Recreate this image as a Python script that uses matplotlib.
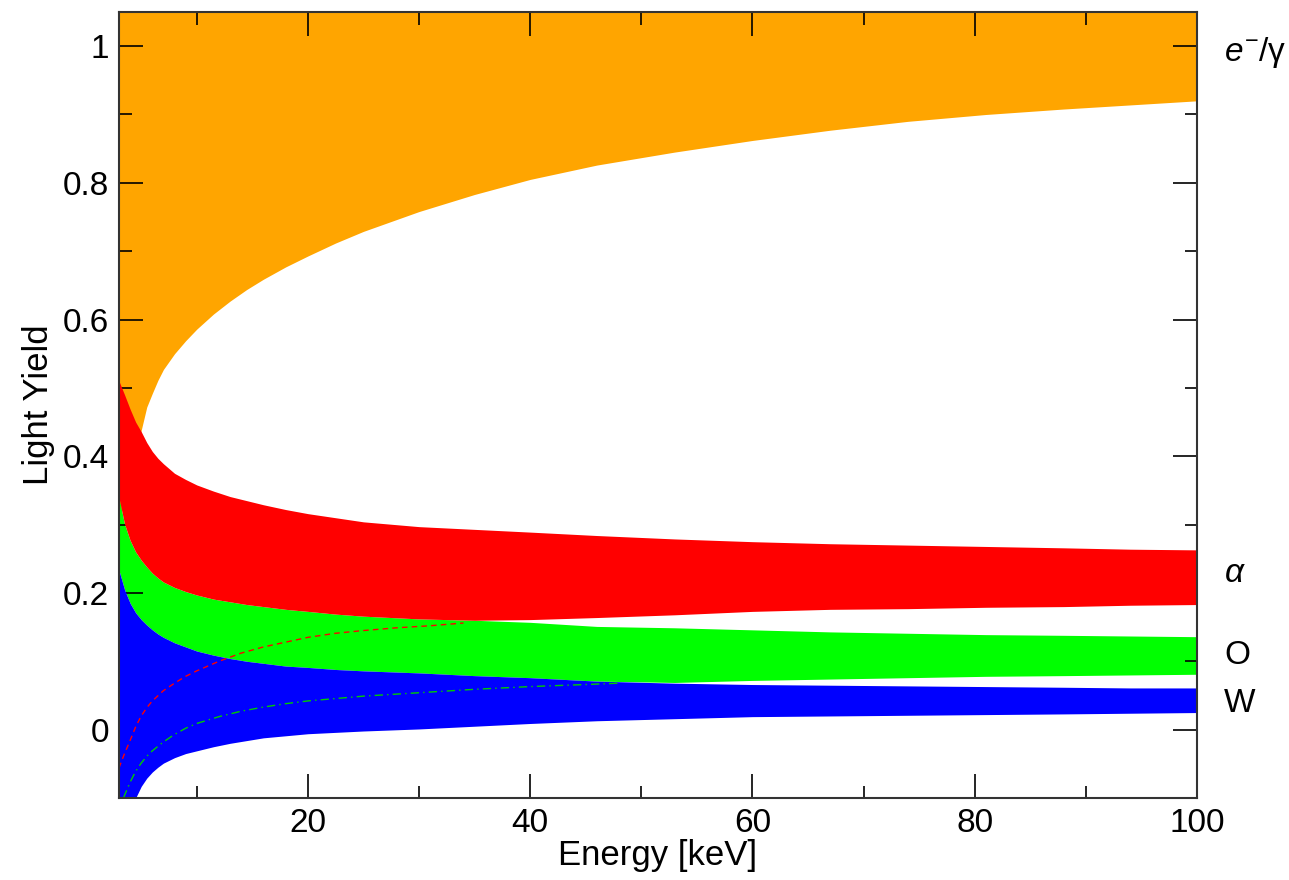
import numpy as np
import matplotlib
matplotlib.use("Agg")
import matplotlib.pyplot as plt
from matplotlib.ticker import MultipleLocator, FuncFormatter

# band edges, light yield vs energy [keV]
energy = [3, 3.5, 4, 4.5, 5, 5.5, 6, 6.5, 7, 8, 9, 10, 11.5, 13, 14.5, 16,
          18, 20, 22.5, 25, 30, 35, 40, 46, 53, 60, 67, 74, 81, 88, 94, 100]

electron_low = [0.30, 0.34, 0.37, 0.405, 0.438, 0.472, 0.492, 0.511, 0.527,
                0.550, 0.569, 0.586, 0.608, 0.627, 0.644, 0.659, 0.677, 0.693,
                0.712, 0.729, 0.758, 0.783, 0.805, 0.826, 0.845, 0.862, 0.877,
                0.890, 0.900, 0.908, 0.914, 0.920]
electron_high = [1.2] * len(energy)

alpha_high = [0.510, 0.490, 0.469, 0.450, 0.436, 0.420, 0.407, 0.397, 0.389,
              0.375, 0.366, 0.358, 0.349, 0.341, 0.335, 0.329, 0.322, 0.316,
              0.310, 0.304, 0.297, 0.293, 0.289, 0.284, 0.279, 0.275, 0.272,
              0.270, 0.268, 0.266, 0.264, 0.263]
alpha_low = [0.339, 0.301, 0.277, 0.260, 0.248, 0.238, 0.229, 0.222, 0.216,
             0.208, 0.202, 0.197, 0.191, 0.187, 0.183, 0.180, 0.176, 0.173,
             0.169, 0.166, 0.162, 0.160, 0.161, 0.164, 0.168, 0.173, 0.176,
             0.177, 0.179, 0.180, 0.182, 0.183]

oxygen_high = [0.339, 0.301, 0.277, 0.260, 0.248, 0.238, 0.229, 0.222, 0.216,
               0.208, 0.202, 0.197, 0.191, 0.187, 0.183, 0.180, 0.176, 0.173,
               0.169, 0.166, 0.162, 0.160, 0.157, 0.151, 0.149, 0.146, 0.143,
               0.141, 0.139, 0.138, 0.137, 0.136]
oxygen_low = [0.233, 0.205, 0.185, 0.171, 0.161, 0.153, 0.146, 0.140, 0.135,
              0.127, 0.121, 0.115, 0.109, 0.104, 0.100, 0.097, 0.093, 0.091,
              0.088, 0.086, 0.083, 0.079, 0.076, 0.071, 0.069, 0.072, 0.074,
              0.076, 0.078, 0.079, 0.080, 0.081]

tungsten_high = [0.233, 0.205, 0.185, 0.171, 0.161, 0.153, 0.146, 0.140, 0.135,
                 0.127, 0.121, 0.115, 0.109, 0.104, 0.100, 0.097, 0.093, 0.091,
                 0.088, 0.086, 0.083, 0.079, 0.076, 0.071, 0.068, 0.066, 0.065,
                 0.064, 0.063, 0.062, 0.061, 0.061]
tungsten_low = [-0.19, -0.155, -0.125, -0.100, -0.083, -0.071, -0.062, -0.055,
                -0.049, -0.041, -0.035, -0.031, -0.025, -0.020, -0.016, -0.012,
                -0.009, -0.006, -0.004, -0.002, 0.001, 0.005, 0.009, 0.013,
                0.016, 0.019, 0.020, 0.021, 0.022, 0.023, 0.024, 0.025]

# thin curves inside the bands
alpha_line_e = [3, 3.5, 4, 4.5, 5, 5.5, 6, 7, 8, 9, 10, 12, 14, 16, 18, 20,
                22.5, 25, 28, 31, 34]
alpha_line_y = [-0.056, -0.035, -0.016, 0.004, 0.020, 0.032, 0.042, 0.057,
                0.068, 0.078, 0.086, 0.100, 0.112, 0.121, 0.128, 0.135, 0.141,
                0.145, 0.149, 0.152, 0.156]
oxygen_line_e = [3.4, 4, 4.5, 5, 5.5, 6, 7, 8, 9, 10, 12, 14, 16, 18, 20, 25,
                 30, 35, 40, 45, 48]
oxygen_line_y = [-0.1, -0.077, -0.061, -0.049, -0.039, -0.031, -0.018, -0.007,
                 0.002, 0.009, 0.019, 0.027, 0.033, 0.038, 0.042, 0.049, 0.054,
                 0.059, 0.063, 0.066, 0.068]

band_labels = [r"$e^{-}$/γ", r"$\alpha$", "O", "W"]
band_label_y = [0.99, 0.229, 0.108, 0.038]


def main():
    plt.rcParams["font.family"] = ["Liberation Sans", "DejaVu Sans"]
    plt.rcParams["mathtext.fontset"] = "custom"
    plt.rcParams["mathtext.rm"] = "Liberation Sans"
    plt.rcParams["mathtext.it"] = "Liberation Sans:italic"

    fig = plt.figure(figsize=(12.89, 8.8), dpi=100)
    ax = fig.add_axes([0.0923, 0.0932, 0.8363, 0.8932])

    ax.fill_between(energy, electron_low, electron_high, color="#ffa500",
                    lw=0, zorder=1)
    ax.fill_between(energy, oxygen_low, oxygen_high, color="#00ff00",
                    lw=0, zorder=2)
    ax.fill_between(energy, tungsten_low, tungsten_high, color="#0000ff",
                    lw=0, zorder=3)
    ax.fill_between(energy, alpha_low, alpha_high, color="#ff0000",
                    lw=0, zorder=3)

    ax.plot(alpha_line_e, alpha_line_y, color="#ff0000", lw=1,
            ls=(0, (4, 3)), zorder=4)
    ax.plot(oxygen_line_e, oxygen_line_y, color="#00cc00", lw=1,
            ls=(0, (6, 3, 1, 3)), zorder=4)

    ax.set_xlim(3, 100)
    ax.set_ylim(-0.1, 1.05)

    ax.xaxis.set_major_locator(MultipleLocator(20))
    ax.xaxis.set_minor_locator(MultipleLocator(10))
    ax.yaxis.set_major_locator(MultipleLocator(0.2))
    ax.yaxis.set_minor_locator(MultipleLocator(0.1))
    ax.yaxis.set_major_formatter(FuncFormatter(lambda v, p: "%g" % round(v, 2)))

    ax.tick_params(which="both", direction="in", top=True, right=True,
                   color="black", width=1.2, labelsize=24, pad=7)
    ax.tick_params(which="major", length=17)
    ax.tick_params(which="minor", length=9)
    for spine in ax.spines.values():
        spine.set_linewidth(1.5)
        spine.set_color("#333333")
        spine.set_zorder(5)
    ax.set_axisbelow(False)

    ax.set_xlabel("Energy [keV]", fontsize=25, labelpad=0)
    ax.set_ylabel("Light Yield", fontsize=25, labelpad=6)

    for label, y in zip(band_labels, band_label_y):
        ax.text(1.025, y, label, transform=ax.get_yaxis_transform(),
                fontsize=24, va="center", ha="left")

    fig.savefig("out.png", dpi=100)


if __name__ == "__main__":
    main()
